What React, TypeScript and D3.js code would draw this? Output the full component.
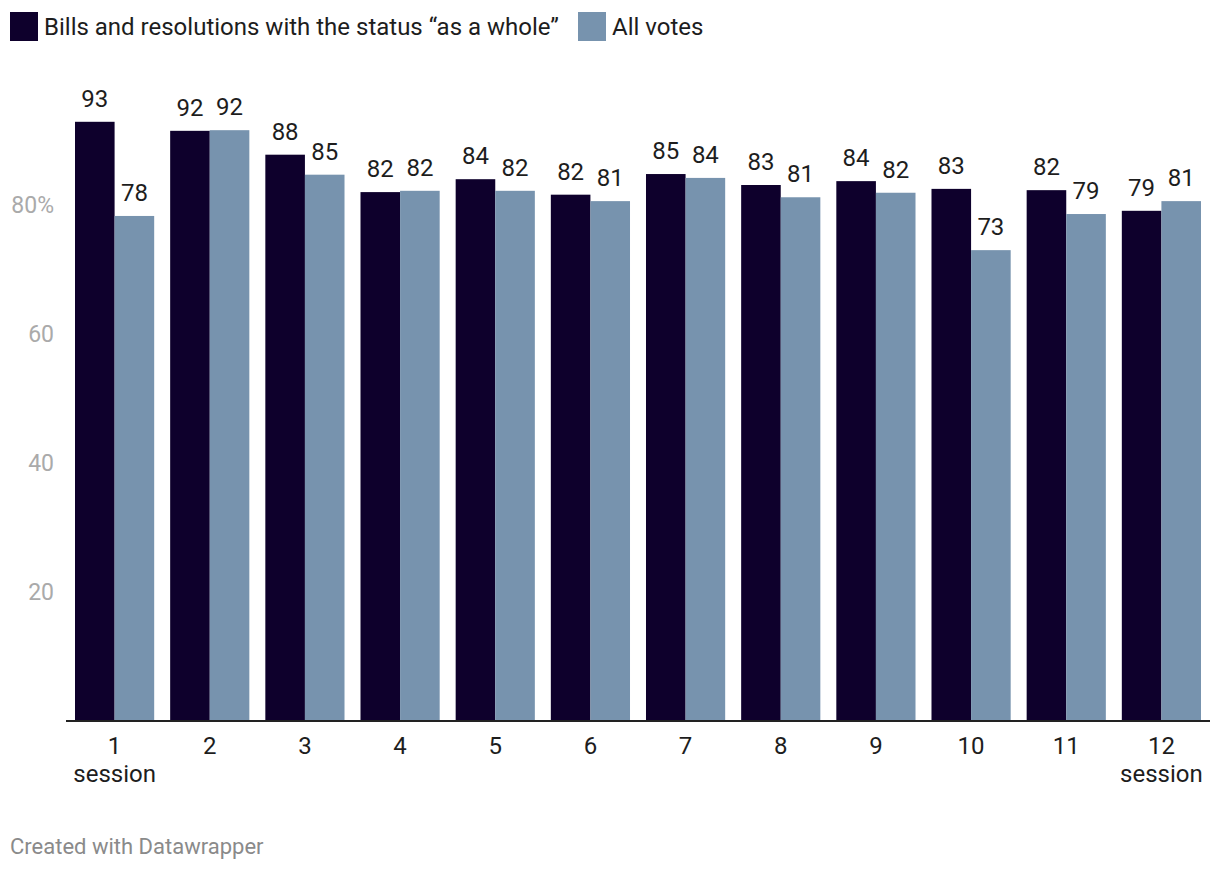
import React from "react";
import * as d3 from "d3";

const categories = ["1", "2", "3", "4", "5", "6", "7", "8", "9", "10", "11", "12"];
const seriesNames = ["Bills and resolutions with the status “as a whole”", "All votes"];
const asWhole = [92.9, 91.5, 87.8, 82.0, 84.0, 81.6, 84.8, 83.1, 83.7, 82.5, 82.3, 79.1];
const allVotes = [78.3, 91.6, 84.7, 82.2, 82.2, 80.6, 84.2, 81.2, 81.9, 73.0, 78.6, 80.6];
const yTicks = [20, 40, 60, 80];
const colors = ["#0e002c", "#7793ae"];

const W = 1220;
const H = 872;
const FONT = "Roboto, 'Noto Sans', sans-serif";

export default function App() {
  const x0 = d3.scaleBand<string>().domain(categories).range([75, 1201]).paddingInner(0.168).paddingOuter(0);
  const x1 = d3.scaleBand<number>().domain([0, 1]).range([0, x0.bandwidth()]).padding(0);
  const y = d3.scaleLinear().domain([0, 100]).range([721, 76]);
  const series = [asWhole, allVotes];

  const legendX = [10, 578];

  return (
    <svg width={W} height={H} style={{ position: "absolute", left: 0, top: 0, background: "#fff" }} fontFamily={FONT}>
      {/* legend */}
      {seriesNames.map((name, i) => (
        <g key={name} transform={`translate(${legendX[i]},12)`}>
          <rect x={0} y={0} width={28} height={29} fill={colors[i]} />
          <text x={34} y={23} fontSize={24} fill="#1d1d1d">{name}</text>
        </g>
      ))}
      {/* y axis labels */}
      {yTicks.map((t) => (
        <text key={t} x={54} y={y(t)} dy="0.35em" textAnchor="end" fontSize={23} fill="#aaaaaa">
          {t === 80 ? `${t}%` : t}
        </text>
      ))}
      {/* bars */}
      {categories.map((c, ci) => (
        <g key={c} transform={`translate(${x0(c)},0)`}>
          {series.map((s, si) => (
            <rect
              key={si}
              x={x1(si)}
              y={y(s[ci])}
              width={x1.bandwidth()}
              height={y(0) - y(s[ci])}
              fill={colors[si]}
            />
          ))}
          {series.map((s, si) => (
            <text
              key={"l" + si}
              x={(x1(si) as number) + x1.bandwidth() / 2}
              y={y(s[ci]) - 15}
              textAnchor="middle"
              fontSize={24}
              fill="#1d1d1d"
            >
              {d3.format(".0f")(s[ci])}
            </text>
          ))}
          <text x={x0.bandwidth() / 2} y={754} textAnchor="middle" fontSize={24} fill="#1d1d1d">{c}</text>
          {(ci === 0 || ci === categories.length - 1) && (
            <text x={x0.bandwidth() / 2} y={782} textAnchor="middle" fontSize={24} fill="#1d1d1d">session</text>
          )}
        </g>
      ))}
      {/* baseline */}
      <line x1={66} x2={1210} y1={y(0)} y2={y(0)} stroke="#222" strokeWidth={2} />
      {/* footer */}
      <text x={10} y={854} fontSize={22} fill="#8a8a8a">Created with Datawrapper</text>
    </svg>
  );
}
